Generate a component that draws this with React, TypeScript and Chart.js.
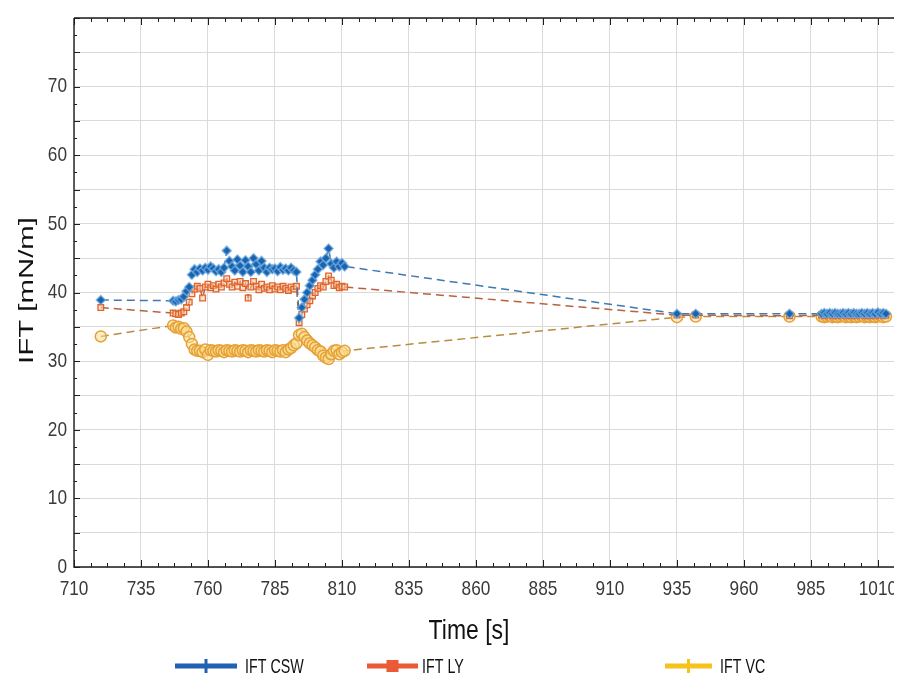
import { useEffect, useRef } from "react";
import { Chart, registerables } from "chart.js";

Chart.register(...registerables);

const SANS = '"Liberation Sans", Arial, sans-serif';

// Measurement times [s]
const times = [
  720,
  747, 748, 749, 750, 751, 752, 753, 754, 755, 756,
  757, 758, 759, 760, 761, 762, 763, 764, 765, 766,
  767, 768, 769, 770, 771, 772, 773, 774, 775, 776,
  777, 778, 779, 780, 781, 782, 783, 784, 785, 786,
  787, 788, 789, 790, 791, 792, 793, 794, 795, 796,
  797, 798, 799, 800, 801, 802, 803, 804, 805, 806,
  807, 808, 809, 810, 811,
  935, 942, 977,
  989, 990, 991, 992, 993, 994, 995, 996, 997, 998, 999, 1000, 1001,
  1002, 1003, 1004, 1005, 1006, 1007, 1008, 1009, 1010, 1011, 1012, 1013,
];

// Interfacial tension [mN/m]
const iftCsw = [
  38.9,
  38.8, 38.7, 38.9, 39.0, 39.4, 40.2, 40.8, 42.6, 43.4, 43.0,
  43.5, 43.2, 43.6, 43.3, 43.8, 43.5, 43.1, 43.4, 43.0, 43.6,
  46.1, 44.6, 43.8, 43.2, 44.8, 43.9, 43.0, 44.7, 43.8, 43.0,
  45.0, 44.1, 43.2, 44.6, 43.6, 43.0, 43.6, 43.4, 43.5, 43.1,
  43.7, 43.3, 43.5, 43.2, 43.6, 43.2, 43.0, 36.3, 37.8, 39.0,
  40.0, 41.0, 41.8, 42.6, 43.4, 44.5, 44.0, 45.0, 46.4, 44.2,
  43.6, 44.5, 43.8, 44.3, 43.8,
  36.9, 36.9, 36.9,
  36.9, 37.0, 36.9, 37.0, 36.9, 37.0, 36.9, 36.9, 37.0, 36.9, 37.0, 36.9, 37.0,
  36.9, 36.9, 37.0, 36.9, 37.0, 36.9, 37.0, 36.9, 37.1, 36.9, 37.0, 36.9,
];

const iftLy = [
  37.8,
  37.0, 36.9, 36.8, 37.0, 37.2, 37.8, 38.6, 39.8, 40.5, 40.9,
  40.6, 39.2, 40.8, 41.2, 40.7, 41.0, 40.5, 41.2, 40.8, 41.4,
  42.0, 41.2, 40.8, 41.5, 40.9, 41.6, 40.7, 41.3, 39.2, 40.8,
  41.6, 40.9, 40.4, 41.2, 40.6, 40.8, 40.4, 41.0, 40.5, 40.8,
  40.4, 40.9, 40.6, 40.3, 40.8, 40.5, 40.9, 35.6, 36.8, 37.6,
  38.2, 38.8, 39.5, 40.0, 40.6, 41.0, 40.8, 41.6, 42.4, 41.8,
  41.0, 41.2, 40.7, 40.9, 40.8,
  36.7, 36.7, 36.6,
  36.7, 36.6, 36.7, 36.8, 36.6, 36.7, 36.6, 36.7, 36.8, 36.6, 36.7, 36.6, 36.7,
  36.6, 36.7, 36.8, 36.6, 36.7, 36.6, 36.7, 36.6, 36.7, 36.8, 36.6, 36.7,
];

const iftVc = [
  33.6,
  35.2, 34.9, 35.0, 34.7, 34.8, 34.3, 33.5, 32.5, 31.7, 31.5,
  31.5, 31.3, 31.7, 30.9, 31.6, 31.5, 31.4, 31.6, 31.5, 31.3,
  31.6, 31.5, 31.4, 31.6, 31.5, 31.4, 31.6, 31.5, 31.3, 31.6,
  31.5, 31.4, 31.6, 31.5, 31.4, 31.6, 31.5, 31.3, 31.6, 31.5,
  31.4, 31.6, 31.3, 31.7, 31.9, 32.3, 32.6, 33.8, 34.0, 33.5,
  33.0, 32.6, 32.3, 32.0, 31.6, 31.4, 30.8, 30.5, 30.3, 31.0,
  31.5, 31.6, 31.0, 31.3, 31.5,
  36.4, 36.5, 36.5,
  36.5, 36.4, 36.5, 36.6, 36.4, 36.5, 36.4, 36.5, 36.6, 36.4, 36.5, 36.4, 36.5,
  36.4, 36.5, 36.6, 36.4, 36.5, 36.4, 36.5, 36.4, 36.5, 36.6, 36.4, 36.5,
];

const xTicks = [710, 735, 760, 785, 810, 835, 860, 885, 910, 935, 960, 985, 1010];
const yLabelTicks = [0, 10, 20, 30, 40, 50, 60, 70];
const xMin = 710;
const xMax = 1016;
const yMin = 0;
const yMax = 80;

const seriesNames = ["IFT CSW", "IFT LY", "IFT VC"];
const legendColors = ["#2160b3", "#ea5a36", "#f6c21c"];

const toPoints = (vals: number[]) => vals.map((v, i) => ({ x: times[i], y: v }));

// Text drawn with a horizontal squeeze (narrow face)
function narrowText(ctx: CanvasRenderingContext2D, text: string, x: number, y: number, size: number, squeeze: number, align: CanvasTextAlign) {
  ctx.save();
  ctx.translate(x, y);
  ctx.scale(squeeze, 1);
  ctx.font = `${size}px ${SANS}`;
  ctx.textAlign = align;
  ctx.textBaseline = "middle";
  ctx.fillText(text, 0, 0);
  ctx.restore();
}

// Frame, inward tick marks, tick labels, axis titles and legend
const framePlugin = {
  id: "frame",
  afterDraw(chart: any) {
    const { ctx, chartArea: a, scales } = chart;
    const xs = scales.x;
    const ys = scales.y;
    ctx.save();

    ctx.strokeStyle = "#1e1e1e";
    ctx.lineWidth = 1.4;
    ctx.beginPath();
    ctx.moveTo(a.left, a.top);
    ctx.lineTo(a.right, a.top);
    ctx.moveTo(a.left, a.top);
    ctx.lineTo(a.left, a.bottom);
    ctx.lineTo(a.right, a.bottom);
    ctx.stroke();

    ctx.lineWidth = 1;
    ctx.beginPath();
    for (let k = 0; xMin + k * 6.25 <= xMax; k++) {
      const px = Math.round(xs.getPixelForValue(xMin + k * 6.25)) + 0.5;
      const len = k % 4 === 0 ? 7 : 4;
      ctx.moveTo(px, a.bottom);
      ctx.lineTo(px, a.bottom - len);
      ctx.moveTo(px, a.top);
      ctx.lineTo(px, a.top + len);
    }
    for (let k = 0; k * 2.5 <= yMax; k++) {
      const py = Math.round(ys.getPixelForValue(k * 2.5)) + 0.5;
      const len = k % 2 === 0 ? 6 : 3;
      ctx.moveTo(a.left, py);
      ctx.lineTo(a.left + len, py);
    }
    ctx.stroke();

    // tick labels
    ctx.fillStyle = "#3a3a3a";
    xTicks.forEach((v) => {
      narrowText(ctx, String(v), xs.getPixelForValue(v), a.bottom + 22, 21, 0.82, "center");
    });
    yLabelTicks.forEach((v) => {
      narrowText(ctx, String(v), a.left - 7, ys.getPixelForValue(v), 21, 0.82, "right");
    });

    // y title
    ctx.fillStyle = "#111";
    ctx.save();
    ctx.translate(19, (a.top + a.bottom) / 2 - 2);
    ctx.rotate(-Math.PI / 2);
    ctx.scale(1.4, 1);
    ctx.font = `21px ${SANS}`;
    ctx.textAlign = "center";
    ctx.textBaseline = "middle";
    ctx.fillText("IFT [mN/m]", 0, 0);
    ctx.restore();

    // x title
    narrowText(ctx, "Time [s]", 461, 624, 27, 0.85, "center");

    // legend
    const entries = [
      { x0: 167, x1: 229, tx: 237, marker: "plus" },
      { x0: 359, x1: 410, tx: 414, marker: "square" },
      { x0: 657, x1: 704, tx: 712, marker: "plus" },
    ];
    const ly = 658;
    entries.forEach((e, i) => {
      const c = legendColors[i];
      ctx.strokeStyle = c;
      ctx.fillStyle = c;
      ctx.lineWidth = 5;
      ctx.beginPath();
      ctx.moveTo(e.x0, ly);
      ctx.lineTo(e.x1, ly);
      ctx.stroke();
      const cx = (e.x0 + e.x1) / 2;
      if (e.marker === "square") {
        ctx.fillRect(cx - 6, ly - 6, 12, 12);
      } else {
        ctx.lineWidth = 3;
        ctx.beginPath();
        ctx.moveTo(cx, ly - 7);
        ctx.lineTo(cx, ly + 7);
        ctx.stroke();
      }
      ctx.fillStyle = "#111";
      narrowText(ctx, seriesNames[i], e.tx, ly + 1, 21, 0.68, "left");
    });

    ctx.restore();
  },
};

const zeroPadding = (s: any) => {
  s.paddingLeft = 0;
  s.paddingRight = 0;
  s.paddingTop = 0;
  s.paddingBottom = 0;
};

export default function App() {
  const canvasRef = useRef<HTMLCanvasElement | null>(null);

  useEffect(() => {
    if (!canvasRef.current) return;
    const chart = new Chart(canvasRef.current, {
      type: "scatter",
      data: {
        datasets: [
          {
            label: seriesNames[0],
            data: toPoints(iftCsw),
            showLine: true,
            borderColor: "#3f78b3",
            borderWidth: 1.5,
            borderDash: [8, 5],
            pointStyle: "rectRot",
            pointRadius: 4.5,
            pointBackgroundColor: "#1a64ae",
            pointBorderColor: "rgba(110,170,225,0.75)",
            pointBorderWidth: 1.5,
          },
          {
            label: seriesNames[1],
            data: toPoints(iftLy),
            showLine: true,
            borderColor: "#b8623e",
            borderWidth: 1.5,
            borderDash: [8, 5],
            pointStyle: "rect",
            pointRadius: 4,
            pointBackgroundColor: "rgba(248,200,165,0.55)",
            pointBorderColor: "#e0652c",
            pointBorderWidth: 1.3,
          },
          {
            label: seriesNames[2],
            data: toPoints(iftVc),
            showLine: true,
            borderColor: "#b98b3e",
            borderWidth: 1.5,
            borderDash: [8, 5],
            pointStyle: "circle",
            pointRadius: 5.5,
            pointBackgroundColor: "rgba(250,222,150,0.55)",
            pointBorderColor: "#e6a034",
            pointBorderWidth: 1.5,
          },
        ],
      },
      options: {
        animation: false,
        responsive: true,
        maintainAspectRatio: false,
        layout: { padding: { top: 10, right: 0, bottom: 0, left: 0 }, autoPadding: false },
        plugins: { legend: { display: false }, tooltip: { enabled: false } },
        scales: {
          x: {
            type: "linear",
            min: xMin,
            max: xMax,
            afterBuildTicks: (s: any) => {
              s.ticks = xTicks.map((v) => ({ value: v }));
            },
            afterFit: (s: any) => {
              s.height = 116;
              zeroPadding(s);
            },
            grid: { color: "#dadada", lineWidth: 1, drawTicks: false },
            border: { display: false },
            ticks: { display: false },
          },
          y: {
            min: yMin,
            max: yMax,
            afterFit: (s: any) => {
              s.width = 66;
              zeroPadding(s);
            },
            grid: { color: "#dadada", lineWidth: 1, drawTicks: false },
            border: { display: false },
            ticks: { display: false, stepSize: 5 },
          },
        },
      },
      plugins: [framePlugin],
    });
    return () => chart.destroy();
  }, []);

  return (
    <div style={{ position: "relative", width: 886, height: 675 }}>
      <canvas ref={canvasRef} />
    </div>
  );
}
